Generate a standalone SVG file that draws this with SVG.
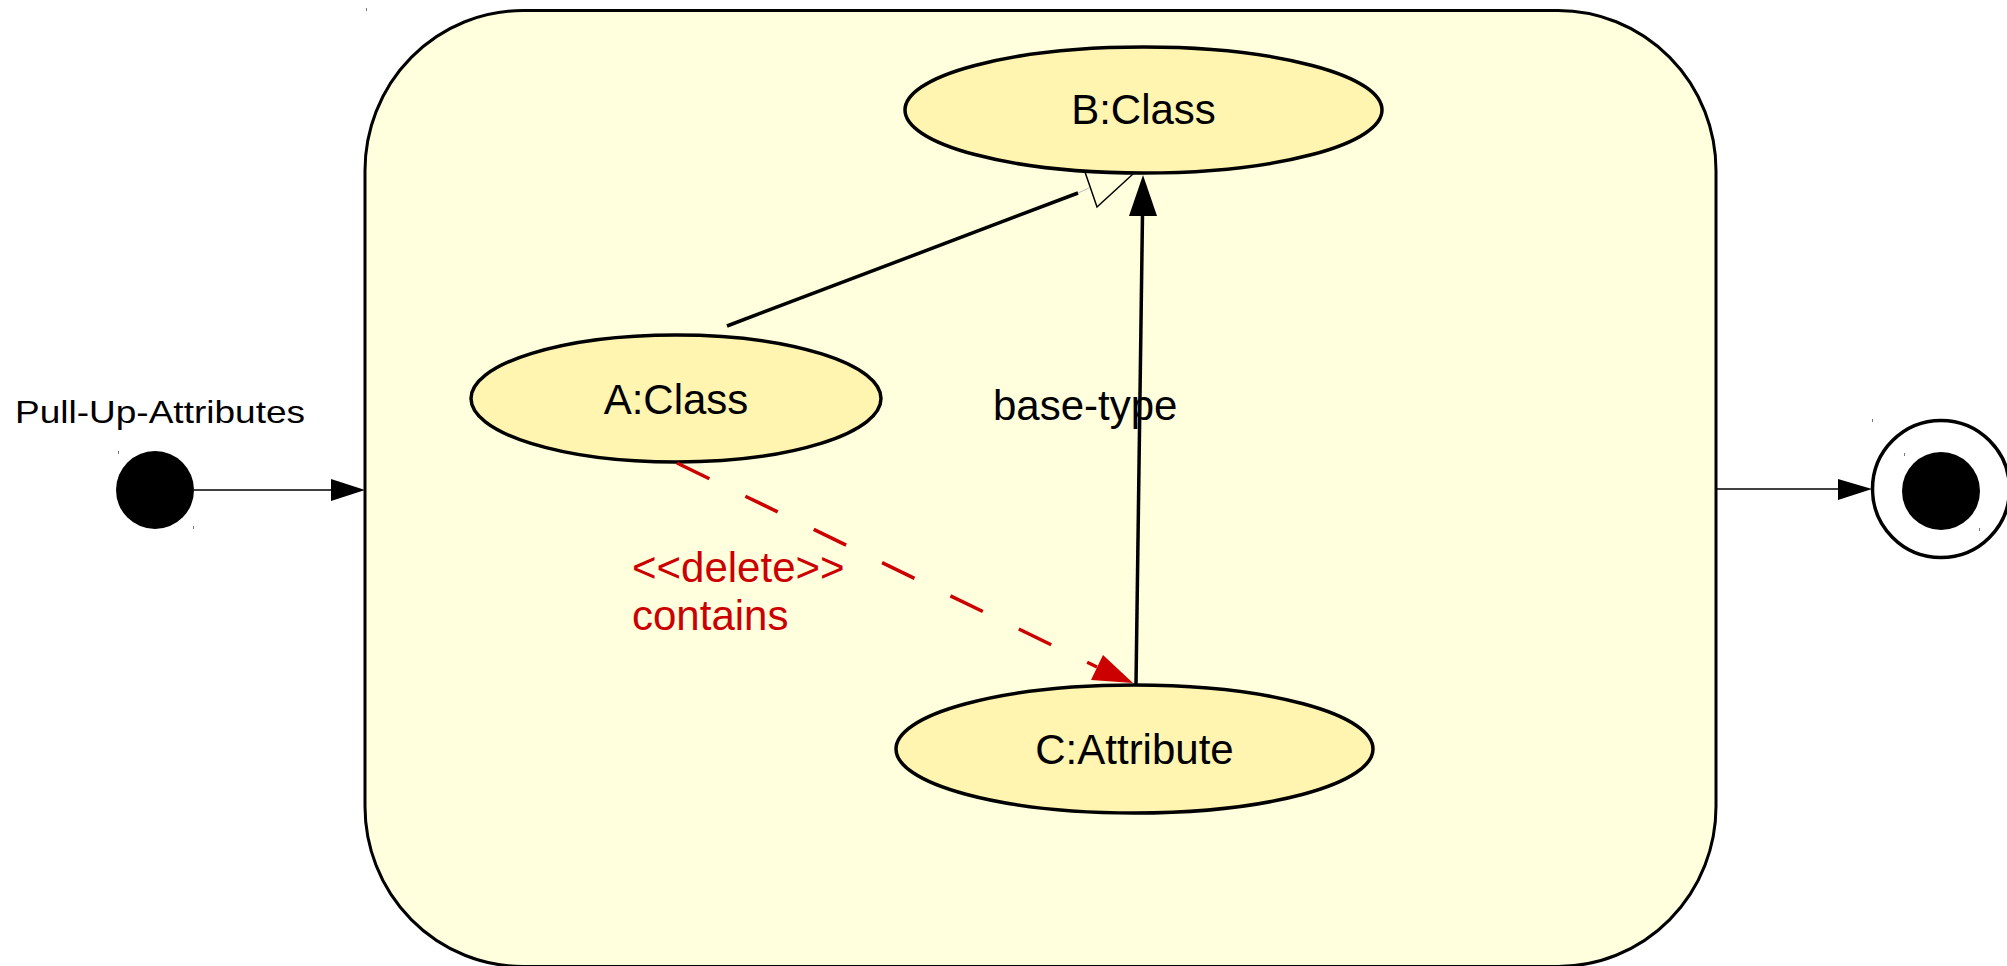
<svg xmlns="http://www.w3.org/2000/svg" width="2007" height="966" viewBox="0 0 2007 966">
  <style>
    .lbl { font-family: "Liberation Sans", Arial, sans-serif; fill: #000; }
    .node { fill: #fff5b0; stroke: #000; stroke-width: 3.5; }
    .red { font-family: "Liberation Sans", Arial, sans-serif; fill: #cc0000; font-size: 42px; }
    .tick { stroke: #777; stroke-width: 1; }
  </style>
  <rect width="2007" height="966" fill="#ffffff"/>

  <!-- composite state -->
  <g id="state-pull-up-attributes">
    <rect x="365" y="10.5" width="1351" height="956" rx="158" ry="160" fill="#ffffdd" stroke="#000" stroke-width="3"/>
  </g>

  <!-- initial pseudo-state with its name -->
  <g id="initial">
    <text class="lbl" x="15" y="423" font-size="32" textLength="290" lengthAdjust="spacingAndGlyphs">Pull-Up-Attributes</text>
    <circle cx="155" cy="490" r="39" fill="#000"/>
  </g>

  <!-- final state -->
  <g id="final">
    <circle cx="1941" cy="489" r="68.5" fill="#fff" stroke="#000" stroke-width="3.5"/>
    <circle cx="1941" cy="491" r="39" fill="#000"/>
  </g>

  <g id="node-b-class">
    <ellipse class="node" cx="1143.5" cy="110" rx="238.5" ry="63"/>
    <text class="lbl" x="1143.5" y="124" font-size="42" text-anchor="middle">B:Class</text>
  </g>
  <g id="node-a-class">
    <ellipse class="node" cx="676" cy="398.5" rx="205" ry="63.5"/>
    <text class="lbl" x="676" y="414" font-size="42" text-anchor="middle">A:Class</text>
  </g>
  <g id="node-c-attribute">
    <ellipse class="node" cx="1134.5" cy="749" rx="238.5" ry="64"/>
    <text class="lbl" x="1134.5" y="764" font-size="42" text-anchor="middle">C:Attribute</text>
  </g>

  <!-- connectors -->
  <g id="connectors">
    <!-- initial -> state -->
    <line x1="194" y1="490" x2="334" y2="490" stroke="#000" stroke-width="1.3"/>
    <polygon points="365,490 331,479 331,501" fill="#000"/>
    <!-- state -> final -->
    <line x1="1716" y1="489" x2="1842" y2="489" stroke="#000" stroke-width="1.3"/>
    <polygon points="1872,489 1838,479 1838,500" fill="#000"/>

    <!-- generalization A -> B -->
    <line x1="727" y1="326" x2="1078" y2="193" stroke="#000" stroke-width="3.5"/>
    <line x1="1078" y1="193" x2="1089" y2="188" stroke="#bbb" stroke-width="1"/>
    <polyline points="1085,172 1097,207 1133,174" fill="none" stroke="#000" stroke-width="1.5"/>

    <!-- base-type C -> B -->
    <line x1="1136" y1="684" x2="1142.5" y2="214" stroke="#000" stroke-width="3.5"/>
    <polygon points="1143,175 1129,216 1157,216" fill="#000"/>
    <text class="lbl" x="993" y="420" font-size="42">base-type</text>

    <!-- deleted containment A -> C -->
    <line x1="677" y1="463" x2="1097" y2="667" stroke="#cc0000" stroke-width="3.5" stroke-dasharray="36 40"/>
    <polygon points="1133,683 1103,655 1091,680" fill="#cc0000"/>
    <text class="red" x="632" y="582">&lt;&lt;delete&gt;&gt;</text>
    <text class="red" x="632" y="630">contains</text>
  </g>

  <!-- leftover handle marks -->
  <g id="marks">
    <line class="tick" x1="118.5" y1="451" x2="118.5" y2="454"/>
    <line class="tick" x1="193.5" y1="526" x2="193.5" y2="529"/>
    <line class="tick" x1="366.5" y1="8" x2="366.5" y2="11"/>
    <line class="tick" x1="1872.5" y1="419" x2="1872.5" y2="422"/>
    <line class="tick" x1="1904.5" y1="453" x2="1904.5" y2="456"/>
    <line class="tick" x1="1979.5" y1="528" x2="1979.5" y2="531"/>
  </g>
</svg>
